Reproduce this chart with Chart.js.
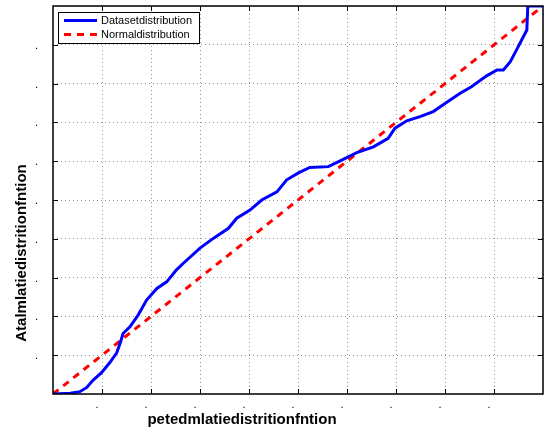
<!DOCTYPE html>
<html>
<head>
<meta charset="utf-8">
<script src="https://cdn.jsdelivr.net/npm/chart.js@4.4.1/dist/chart.umd.min.js"></script>
<style>
  html, body { margin: 0; padding: 0; background: #fff; }
  #wrap { width: 553px; height: 432px; }
</style>
</head>
<body>
<div id="wrap"><canvas id="chart" width="553" height="432"></canvas></div>
<script>
const datasetX = [0, 0.035, 0.055, 0.069, 0.082, 0.099, 0.116, 0.130, 0.137, 0.143, 0.157, 0.174, 0.191, 0.212, 0.232, 0.252, 0.266, 0.300,
  0.327, 0.358, 0.375, 0.402, 0.426, 0.457, 0.477, 0.501, 0.524, 0.562, 0.586, 0.620, 0.654, 0.684, 0.698, 0.722, 0.749, 0.776,
  0.803, 0.831, 0.854, 0.885, 0.906, 0.919, 0.933, 0.946, 0.967, 0.969, 1.0]
const datasetY = [0, 0.002, 0.006, 0.017, 0.036, 0.055, 0.081, 0.106, 0.131, 0.156, 0.173, 0.204, 0.242, 0.272, 0.289, 0.320, 0.337, 0.376,
  0.401, 0.427, 0.453, 0.474, 0.500, 0.521, 0.552, 0.570, 0.584, 0.586, 0.601, 0.622, 0.637, 0.659, 0.685, 0.704, 0.715, 0.728,
  0.751, 0.775, 0.792, 0.820, 0.835, 0.835, 0.856, 0.887, 0.938, 1.0, 1.0]
const normalX = [0, 1]
const normalY = [0, 1]
const xTickLabels = ["", ".", ".", ".", ".", ".", ".", ".", ".", ".", ""]
const yTickLabels = ["", ".", ".", ".", ".", ".", ".", ".", ".", ".", ""]
const xTitle = "petedmlatiedistritionfntion"
const yTitle = "Atalmlatiedistritionfntion"

const fontFamily = "'Liberation Sans', Arial, sans-serif"

function toPoints(xs, ys) {
  return xs.map((x, i) => ({x: x, y: ys[i]}))
}

// frame, inward ticks, titles and legend
const decorPlugin = {
  id: "decor",
  afterDraw(chart) {
    const ctx = chart.ctx
    const a = chart.chartArea
    const xs = chart.scales.x
    const ys = chart.scales.y
    ctx.save()
    ctx.strokeStyle = "#000"
    ctx.lineWidth = 1
    ctx.setLineDash([])
    ctx.beginPath()
    for (let i = 1; i < 10; i++) {
      const px = Math.round(xs.getPixelForValue(i / 10)) + 0.5
      ctx.moveTo(px, a.bottom); ctx.lineTo(px, a.bottom - 5)
      ctx.moveTo(px, a.top); ctx.lineTo(px, a.top + 5)
      const py = Math.round(ys.getPixelForValue(i / 10)) + 0.5
      ctx.moveTo(a.left, py); ctx.lineTo(a.left + 5, py)
      ctx.moveTo(a.right, py); ctx.lineTo(a.right - 5, py)
    }
    ctx.stroke()
    ctx.lineWidth = 1.5
    ctx.strokeRect(a.left, a.top, a.right - a.left, a.bottom - a.top)

    // axis titles
    ctx.fillStyle = "#000"
    ctx.font = "bold 15px " + fontFamily
    ctx.textAlign = "center"
    ctx.textBaseline = "alphabetic"
    ctx.fillText(xTitle, 242, 424)
    ctx.save()
    ctx.translate(26, 253)
    ctx.rotate(-Math.PI / 2)
    ctx.fillText(yTitle, 0, 0)
    ctx.restore()

    // legend
    const lx = 58, ly = 12, lw = 141, lh = 31
    ctx.fillStyle = "#fff"
    ctx.fillRect(lx, ly, lw, lh)
    ctx.strokeStyle = "#000"
    ctx.lineWidth = 1
    ctx.strokeRect(lx + 0.5, ly + 0.5, lw, lh)
    ctx.font = "11px " + fontFamily
    ctx.textAlign = "left"
    ctx.textBaseline = "middle"
    chart.data.datasets.forEach((ds, i) => {
      const yy = ly + 8.5 + i * 14
      ctx.strokeStyle = ds.borderColor
      ctx.lineWidth = 3
      ctx.setLineDash(ds.borderDash || [])
      ctx.beginPath()
      ctx.moveTo(64, yy); ctx.lineTo(97, yy)
      ctx.stroke()
      ctx.setLineDash([])
      ctx.fillStyle = "#000"
      ctx.fillText(ds.label, 101, yy)
    })
    ctx.restore()
  }
}

new Chart(document.getElementById("chart"), {
  type: "scatter",
  data: {
    datasets: [
      {
        label: "Datasetdistribution",
        data: toPoints(datasetX, datasetY),
        showLine: true,
        borderColor: "#0000ff",
        borderWidth: 3,
        pointRadius: 0,
        tension: 0
      },
      {
        label: "Normaldistribution",
        data: toPoints(normalX, normalY),
        showLine: true,
        borderColor: "#ff0000",
        borderWidth: 3,
        borderDash: [7, 6],
        pointRadius: 0
      }
    ]
  },
  options: {
    responsive: false,
    animation: false,
    layout: { padding: { top: 6, right: 10, left: 0, bottom: 0 } },
    plugins: {
      legend: { display: false },
      tooltip: { enabled: false }
    },
    scales: {
      x: {
        type: "linear",
        min: 0,
        max: 1,
        afterFit(scale) {
          scale.height = 38
          scale.paddingLeft = 0
          scale.paddingRight = 0
        },
        afterBuildTicks(scale) { scale.ticks = xTickLabels.map((t, i) => ({value: i / 10})) },
        ticks: {
          autoSkip: false,
          maxRotation: 0,
          padding: 4,
          labelOffset: -5,
          color: "#000",
          font: { family: fontFamily, size: 11 },
          callback: (v, i) => xTickLabels[i]
        },
        grid: { color: "#999", lineWidth: 1, drawTicks: false },
        border: { display: false, dash: [1, 3] }
      },
      y: {
        type: "linear",
        min: 0,
        max: 1,
        afterFit(scale) {
          scale.width = 53
          scale.paddingTop = 0
          scale.paddingBottom = 0
        },
        afterBuildTicks(scale) { scale.ticks = yTickLabels.map((t, i) => ({value: i / 10})) },
        ticks: {
          autoSkip: false,
          padding: 15,
          labelOffset: 1,
          color: "#000",
          font: { family: fontFamily, size: 11 },
          callback: (v, i) => yTickLabels[i]
        },
        grid: { color: "#999", lineWidth: 1, drawTicks: false },
        border: { display: false, dash: [1, 3] }
      }
    }
  },
  plugins: [decorPlugin]
})
</script>
</body>
</html>
